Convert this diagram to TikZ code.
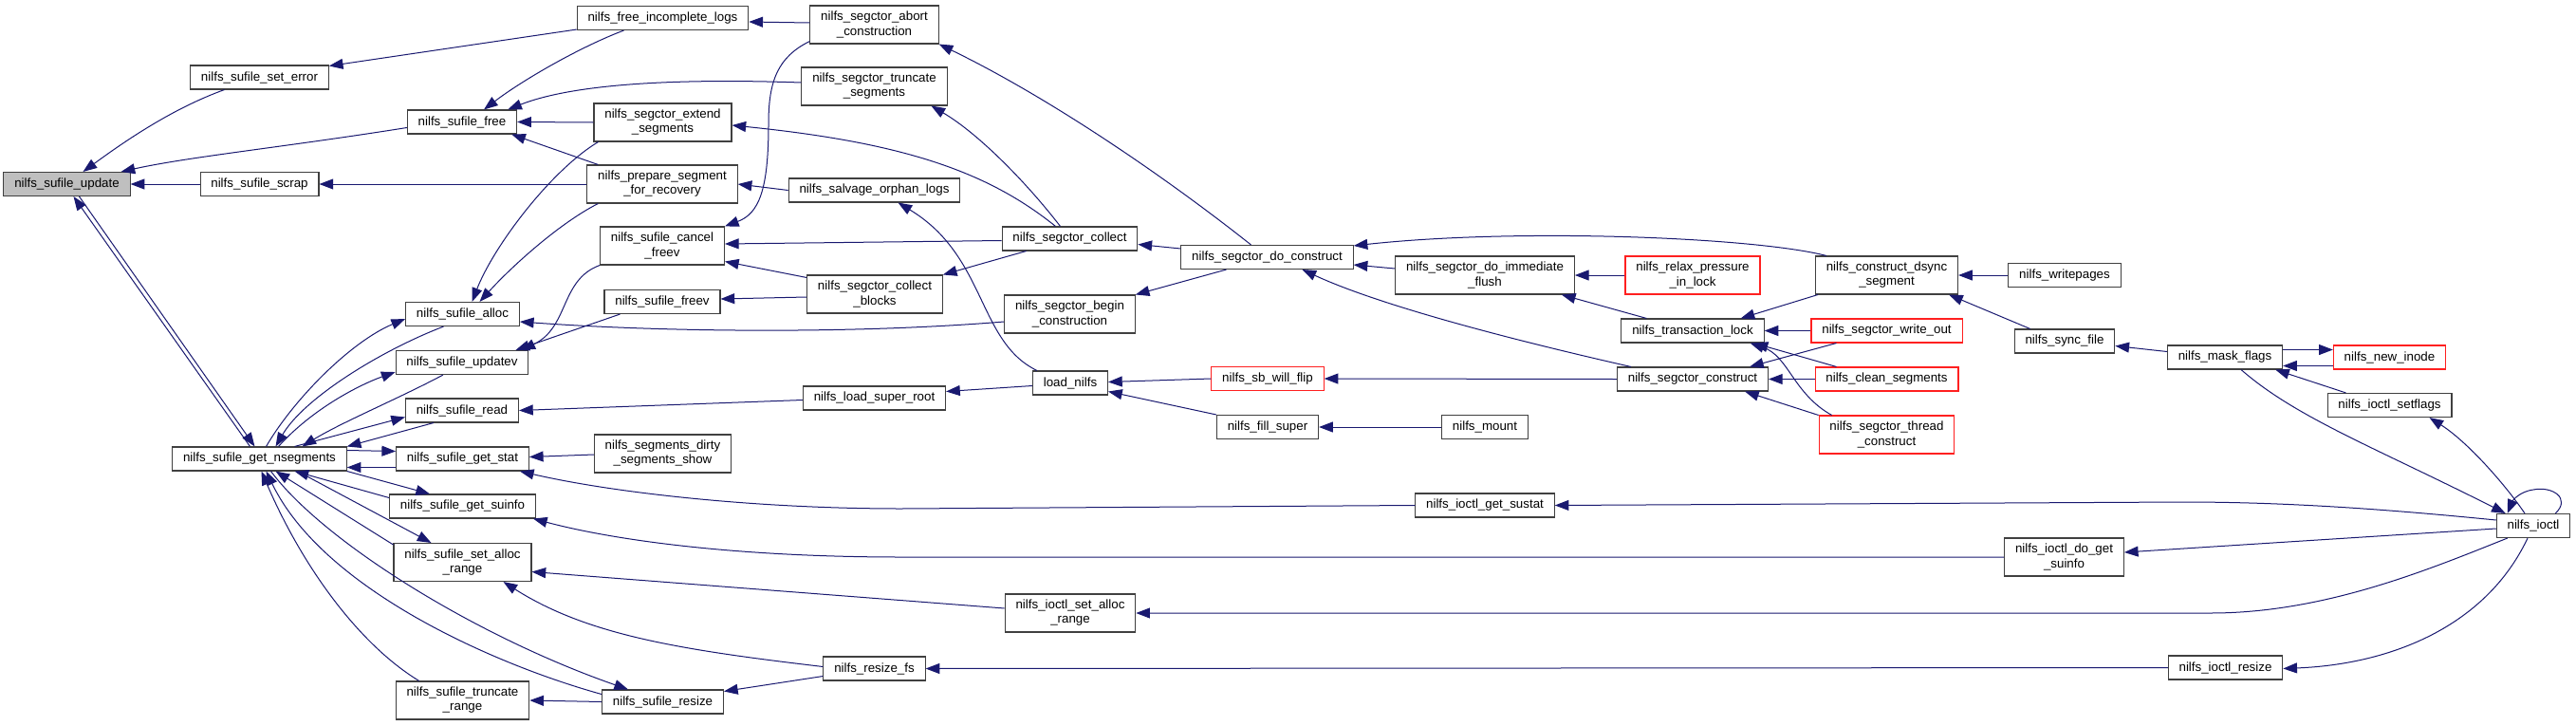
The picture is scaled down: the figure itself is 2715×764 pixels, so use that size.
\documentclass[tikz,border=0pt]{standalone}
\usepackage{fontspec}
\setmainfont{Liberation Sans}
\usetikzlibrary{arrows.meta,calc}
\definecolor{edgeblue}{HTML}{191970}
\definecolor{rootgray}{HTML}{BFBFBF}
\definecolor{trunc}{HTML}{FF2020}

\begin{document}
\begin{tikzpicture}[
    x=0.75pt, y=-0.75pt,
    fn/.style={draw=black!75, fill=white, line width=0.8pt, inner xsep=8.5pt, inner ysep=0pt, minimum height=18.75pt, font=\fontsize{10pt}{11.3pt}\selectfont, align=center},
    two/.style={minimum height=30pt},
    root/.style={fn, fill=rootgray},
    cut/.style={fn, draw=trunc},
    call/.style={draw=edgeblue, line width=0.75pt, -{Triangle[length=11pt,width=8.2pt]}},
]
    \fill[white] (0,0) rectangle (2715,764);
    \useasboundingbox (0,0) rectangle (2715,764);

    % sufile functions
    \node[root] (upd) at (70.5,194) {nilfs\_sufile\_update};
    \node[fn] (nseg) at (273.5,483.5) {nilfs\_sufile\_get\_nsegments};
    \node[fn] (seterr) at (273.5,81.5) {nilfs\_sufile\_set\_error};
    \node[fn] (scrap) at (273.5,194) {nilfs\_sufile\_scrap};
    \node[fn] (free) at (487,128.5) {nilfs\_sufile\_free};
    \node[fn] (alloc) at (487.5,331) {nilfs\_sufile\_alloc};
    \node[fn] (updatev) at (487,382) {nilfs\_sufile\_updatev};
    \node[fn] (read) at (487,432.5) {nilfs\_sufile\_read};
    \node[fn] (getstat) at (487.5,483.5) {nilfs\_sufile\_get\_stat};
    \node[fn] (suinfo) at (487.5,533.5) {nilfs\_sufile\_get\_suinfo};
    \node[fn,two] (setalloc) at (487.5,592.5) {nilfs\_sufile\_set\_alloc\\\_range};
    \node[fn,two] (truncrange) at (487.5,738) {nilfs\_sufile\_truncate\\\_range};

    % callers, level 2
    \node[fn] (incomplete) at (698.5,19) {nilfs\_free\_incomplete\_logs};
    \node[fn,two] (extend) at (698.5,129) {nilfs\_segctor\_extend\\\_segments};
    \node[fn,two] (prepare) at (698,194) {nilfs\_prepare\_segment\\\_for\_recovery};
    \node[fn,two] (cancel) at (698,259) {nilfs\_sufile\_cancel\\\_freev};
    \node[fn] (freev) at (698,318) {nilfs\_sufile\_freev};
    \node[fn,two] (dirty) at (698.5,478) {nilfs\_segments\_dirty\\\_segments\_show};
    \node[fn] (resize) at (698.5,739.5) {nilfs\_sufile\_resize};

    % level 3
    \node[fn,two] (abort) at (921.5,26) {nilfs\_segctor\_abort\\\_construction};
    \node[fn,two] (truncseg) at (921.5,91) {nilfs\_segctor\_truncate\\\_segments};
    \node[fn] (salvage) at (921.5,200.5) {nilfs\_salvage\_orphan\_logs};
    \node[fn,two] (blocks) at (922,310) {nilfs\_segctor\_collect\\\_blocks};
    \node[fn] (superroot) at (921.5,419.5) {nilfs\_load\_super\_root};
    \node[fn] (resizefs) at (921.5,704.5) {nilfs\_resize\_fs};

    % level 4
    \node[fn] (collect) at (1127.5,251.5) {nilfs\_segctor\_collect};
    \node[fn,two] (begin) at (1127.5,331) {nilfs\_segctor\_begin\\\_construction};
    \node[fn] (loadnilfs) at (1128,403.5) {load\_nilfs};
    \node[fn,two] (iocsetalloc) at (1128,646) {nilfs\_ioctl\_set\_alloc\\\_range};

    % level 5
    \node[fn] (doconstr) at (1335.5,271) {nilfs\_segctor\_do\_construct};
    \node[cut] (willflip) at (1336,399) {nilfs\_sb\_will\_flip};
    \node[fn] (fillsuper) at (1336,450) {nilfs\_fill\_super};

    % level 6
    \node[fn,two] (immflush) at (1565,290) {nilfs\_segctor\_do\_immediate\\\_flush};
    \node[fn] (mount) at (1565,450) {nilfs\_mount};
    \node[fn] (sustat) at (1565,532.5) {nilfs\_ioctl\_get\_sustat};

    % level 7
    \node[cut,two] (relax) at (1784,290) {nilfs\_relax\_pressure\\\_in\_lock};
    \node[fn] (translock) at (1784,348.5) {nilfs\_transaction\_lock};
    \node[fn] (segconstr) at (1784,399.5) {nilfs\_segctor\_construct};

    % level 8
    \node[fn,two] (dsync) at (1988.5,290) {nilfs\_construct\_dsync\\\_segment};
    \node[cut] (writeout) at (1988.5,348.5) {nilfs\_segctor\_write\_out};
    \node[cut] (clean) at (1988.5,399.5) {nilfs\_clean\_segments};
    \node[cut,two] (thread) at (1988.5,458) {nilfs\_segctor\_thread\\\_construct};

    % level 9 and up
    \node[fn] (writepages) at (2176,290) {nilfs\_writepages};
    \node[fn] (syncfile) at (2176,359.5) {nilfs\_sync\_file};
    \node[fn,two] (dogetsuinfo) at (2175.5,587) {nilfs\_ioctl\_do\_get\\\_suinfo};
    \node[fn] (maskflags) at (2345,376.5) {nilfs\_mask\_flags};
    \node[fn] (iocresize) at (2345.5,703.5) {nilfs\_ioctl\_resize};
    \node[cut] (newinode) at (2518.5,376.5) {nilfs\_new\_inode};
    \node[fn] (setflags) at (2518.5,427) {nilfs\_ioctl\_setflags};
    \node[fn] (ioctl) at (2670,554) {nilfs\_ioctl};

    % calls into nilfs_sufile_update
    \draw[call] ($(seterr.south)+(-37,0)$) .. controls (180,115) and (130,150) .. ($(upd.north)+(17,0)$);
    \draw[call] ($(free.west)+(0,6)$) .. controls (300,155) and (200,165) .. ($(upd.north east)+(-10,0)$);
    \draw[call] (scrap.west) -- (upd.east);
    \draw[call] ($(nseg.north)+(-10,0)$) -- ($(upd.south)+(7,0)$);
    \draw[call] ($(upd.south)+(13,0)$) -- ($(nseg.north)+(-5,0)$);

    % around get_nsegments
    \draw[call] ($(nseg.north)+(7,0)$) .. controls (310,420) and (370,360) .. ($(alloc.west)+(0,5)$);
    \draw[call] ($(alloc.south)+(-20,0)$) .. controls (400,370) and (320,420) .. ($(nseg.north)+(17,0)$);
    \draw[call] ($(nseg.north)+(20,0)$) .. controls (330,430) and (380,405) .. ($(updatev.south west)+(0,-3)$);
    \draw[call] ($(updatev.south)+(-20,0)$) .. controls (420,420) and (360,445) .. ($(nseg.north)+(45,0)$);
    \draw[call] ($(nseg.north)+(37,0)$) -- ($(read.west)+(0,7)$);
    \draw[call] ($(read.south west)+(30,0)$) -- (nseg.north east);
    \draw[call] ($(nseg.east)+(0,-9)$) -- ($(getstat.west)+(0,-8)$);
    \draw[call] ($(getstat.west)+(0,9)$) -- ($(nseg.east)+(0,9)$);
    \draw[call] (nseg.south east) -- ($(suinfo.north west)+(43,0)$);
    \draw[call] ($(suinfo.west)+(0,-9)$) -- ($(nseg.south)+(37,0)$);
    \draw[call] ($(nseg.south)+(40,0)$) -- ($(setalloc.north west)+(40,0)$);
    \draw[call] ($(setalloc.north west)+(0,2)$) -- ($(nseg.south)+(17,0)$);
    \draw[call] ($(nseg.south)+(12,0)$) .. controls (340,570) and (500,670) .. ($(resize.north west)+(28,0)$);
    \draw[call] ($(resize.west)+(0,-8)$) .. controls (520,700) and (340,620) .. ($(nseg.south)+(7,0)$);
    \draw[call] ($(truncrange.north west)+(25,0)$) .. controls (380,680) and (320,600) .. ($(nseg.south)+(2,0)$);

    % sufile column callers
    \draw[call] ($(incomplete.south west)+(0,-1)$) -- ($(seterr.east)+(0,-12)$);
    \draw[call] ($(incomplete.south)+(-41,0)$) .. controls (610,50) and (550,85) .. ($(free.north)+(23,0)$);
    \draw[call] ($(truncseg.west)+(0,-4)$) .. controls (700,82) and (600,90) .. ($(free.north east)+(-10,0)$);
    \draw[call] (extend.west) -- (free.east);
    \draw[call] ($(prepare.north west)+(12,0)$) -- ($(free.south east)+(-6,0)$);
    \draw[call] (prepare.west) -- (scrap.east);
    \draw[call] ($(extend.south west)+(5,0)$) .. controls (580,180) and (520,260) .. ($(alloc.north)+(10,0)$);
    \draw[call] ($(prepare.south west)+(12,0)$) .. controls (590,235) and (540,280) .. ($(alloc.north)+(18,0)$);
    \draw[call] ($(begin.west)+(0,8)$) .. controls (900,352) and (700,350) .. ($(alloc.east)+(0,8)$);
    \draw[call] (cancel.south west) .. controls (590,295) and (600,345) .. ($(updatev.north east)+(-8,0)$);
    \draw[call] ($(freev.south west)+(17,0)$) -- ($(updatev.north east)+(-14,0)$);
    \draw[call] ($(superroot.west)+(0,2)$) -- (read.east);
    \draw[call] ($(dirty.west)+(0,1)$) -- ($(getstat.east)+(0,-2)$);
    \draw[call] (sustat.west) -- (950,536) .. controls (800,536) and (650,520) .. ($(getstat.south east)+(-10,0)$);
    \draw[call] (dogetsuinfo.west) -- (950,587) .. controls (780,587) and (650,570) .. ($(suinfo.south east)+(-3,0)$);
    \draw[call] ($(iocsetalloc.west)+(0,-5)$) -- ($(setalloc.east)+(0,10)$);
    \draw[call] ($(resizefs.west)+(0,-2)$) .. controls (720,685) and (620,670) .. ($(setalloc.south)+(43,0)$);
    \draw[call] (resize.west) -- (truncrange.east);

    % segment constructor side
    \draw[call] (salvage.west) -- (prepare.east);
    \draw[call] ($(abort.west)+(0,-2)$) -- ($(incomplete.east)+(0,4)$);
    \draw[call] ($(abort.south west)+(0,-3)$) .. controls (820,60) and (810,85) .. (810,130) .. controls (810,200) and (800,225) .. (cancel.north east);
    \draw[call] ($(collect.west)+(0,2)$) -- ($(cancel.east)+(0,-2)$);
    \draw[call] ($(blocks.north west)+(0,3)$) -- ($(cancel.south east)+(0,-4)$);
    \draw[call] ($(blocks.west)+(0,3)$) -- ($(freev.east)+(0,-3)$);
    \draw[call] ($(collect.north)+(-15,0)$) .. controls (1040,180) and (950,150) .. ($(extend.east)+(0,3)$);
    \draw[call] ($(collect.north)+(-10,0)$) .. controls (1080,190) and (1030,140) .. ($(truncseg.south)+(60,0)$);
    \draw[call] ($(collect.south west)+(26,0)$) -- (blocks.north east);
    \draw[call] ($(loadnilfs.north west)+(5,0)$) .. controls (1030,360) and (1040,270) .. ($(salvage.south)+(25,0)$);
    \draw[call] ($(doconstr.north)+(-17,0)$) .. controls (1220,180) and (1100,100) .. (abort.south east);
    \draw[call] ($(doconstr.west)+(0,-9)$) -- ($(collect.east)+(0,6)$);
    \draw[call] ($(doconstr.south)+(-43,0)$) -- (begin.north east);
    \draw[call] ($(loadnilfs.west)+(0,3)$) -- ($(superroot.east)+(0,-7)$);
    \draw[call] (willflip.west) -- ($(loadnilfs.east)+(0,-1)$);
    \draw[call] (fillsuper.north west) -- ($(loadnilfs.south east)+(0,-4)$);
    \draw[call] (mount.west) -- (fillsuper.east);
    \draw[call] (segconstr.west) -- (willflip.east);
    \draw[call] ($(resizefs.west)+(0,8)$) -- ($(resize.east)+(0,-11)$);
    \draw[call] (iocresize.west) -- (resizefs.east);

    % transaction / construct
    \draw[call] ($(dsync.north west)+(12,0)$) .. controls (1850,250) and (1600,240) .. ($(doconstr.north east)+(0,1)$);
    \draw[call] ($(immflush.west)+(0,-7)$) -- ($(doconstr.east)+(0,8)$);
    \draw[call] ($(segconstr.north west)+(15,0)$) .. controls (1580,355) and (1450,320) .. ($(doconstr.south)+(37,0)$);
    \draw[call] (relax.west) -- (immflush.east);
    \draw[call] ($(translock.north west)+(27,0)$) -- ($(immflush.south east)+(-14,0)$);
    \draw[call] ($(dsync.south west)+(3,0)$) -- ($(translock.north east)+(-25,0)$);
    \draw[call] (writeout.west) -- (translock.east);
    \draw[call] ($(clean.north west)+(23,0)$) -- ($(translock.south east)+(-11,0)$);
    \draw[call] ($(thread.north west)+(14,0)$) .. controls (1890,415) and (1885,375) .. ($(translock.south east)+(-15,0)$);
    \draw[call] ($(writeout.south west)+(27,0)$) -- ($(segconstr.north east)+(-20,0)$);
    \draw[call] (clean.west) -- (segconstr.east);
    \draw[call] (thread.north west) -- ($(segconstr.south east)+(-25,0)$);
    \draw[call] (writepages.west) -- (dsync.east);
    \draw[call] ($(syncfile.north west)+(17,0)$) -- ($(dsync.south east)+(-10,0)$);
    \draw[call] ($(maskflags.west)+(0,-6)$) -- ($(syncfile.east)+(0,5)$);

    % ioctl side
    \draw[call] ($(maskflags.east)+(0,-8)$) -- ($(newinode.west)+(0,-8)$);
    \draw[call] ($(newinode.west)+(0,9)$) -- ($(maskflags.east)+(0,9)$);
    \draw[call] ($(setflags.north west)+(20,0)$) -- ($(maskflags.south east)+(-8,0)$);
    \draw[call] ($(maskflags.south)+(17,0)$) .. controls (2420,440) and (2500,470) .. ($(ioctl.north west)+(10,0)$);
    \draw[call] ($(ioctl.north)+(-9,0)$) .. controls (2640,510) and (2600,465) .. ($(setflags.south east)+(-24,0)$);
    \draw[call] ($(ioctl.north east)+(-16,0)$) .. controls (2710,525) and (2690,512) .. (2670,516) .. controls (2655,518) and (2648,528) .. ($(ioctl.north west)+(12,0)$);
    \draw[call] ($(ioctl.west)+(0,-6)$) .. controls (2500,535) and (2400,529) .. (2300,529) -- (sustat.east);
    \draw[call] ($(ioctl.west)+(0,3)$) -- ($(dogetsuinfo.east)+(0,-5)$);
    \draw[call] ($(ioctl.south west)+(12,0)$) .. controls (2560,600) and (2450,646) .. (2330,646) -- (iocsetalloc.east);
    \draw[call] ($(ioctl.south)+(-6,0)$) .. controls (2620,660) and (2520,700) .. ($(iocresize.east)+(0,1)$);
\end{tikzpicture}
\end{document}
